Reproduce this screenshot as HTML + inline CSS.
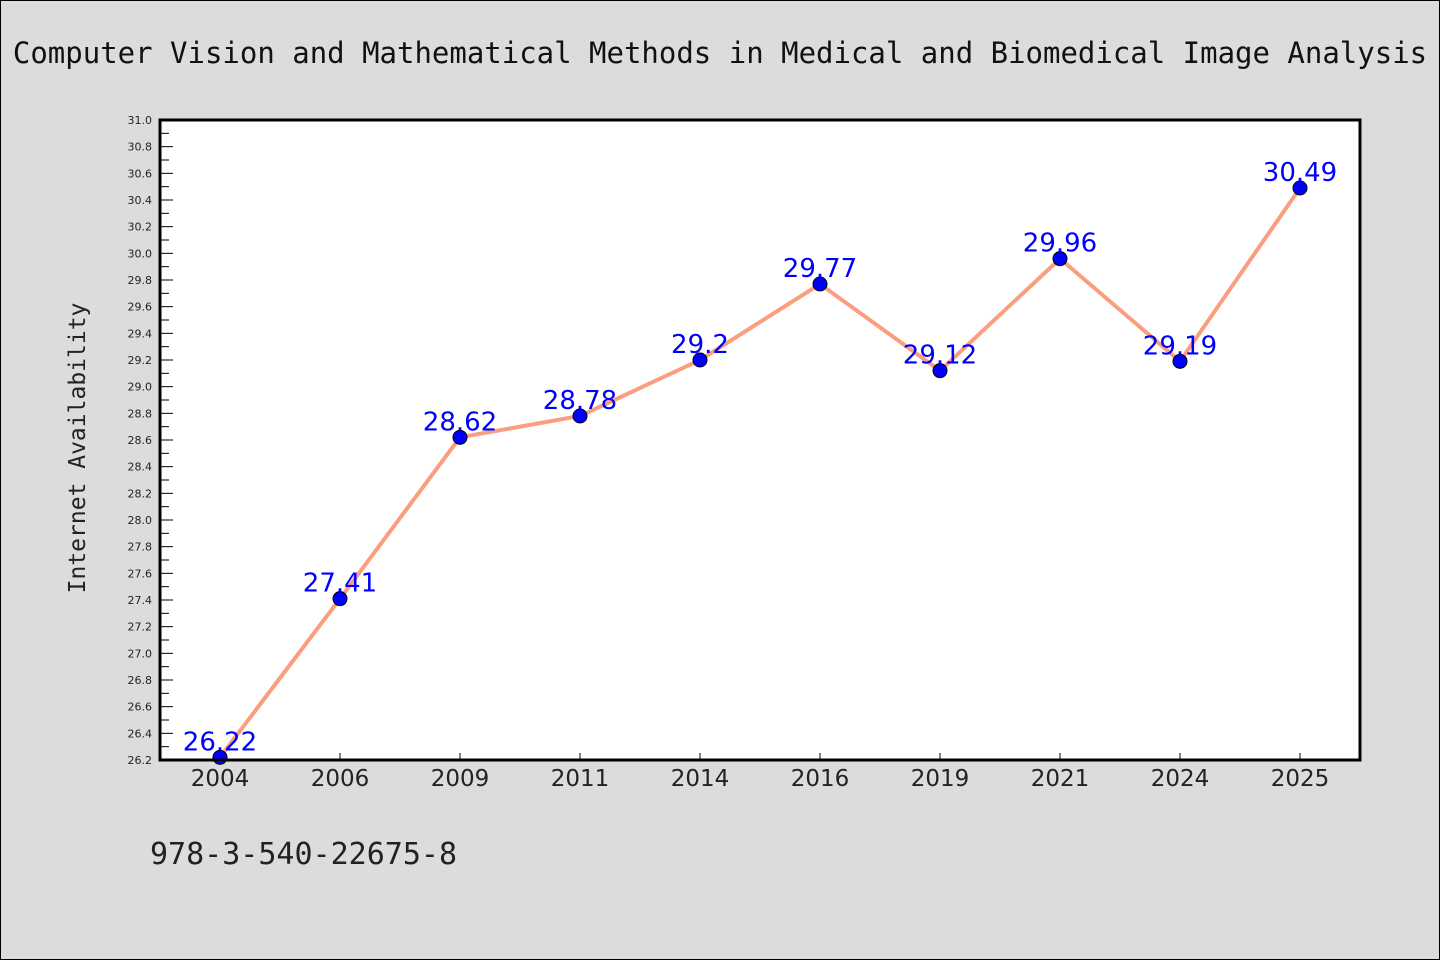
<!DOCTYPE html>
<html><head><meta charset="utf-8"><style>
body{margin:0;background:#dcdcdc;}
svg{display:block;font-family:"DejaVu Sans","Liberation Sans",sans-serif;}
</style></head><body>
<svg id="c" width="1440" height="960">
<rect x="0.5" y="0.5" width="1439" height="959" fill="#dcdcdc" stroke="#000"/>
<text x="720" y="63" text-anchor="middle" font-family="'DejaVu Sans Mono','Liberation Mono',monospace" font-size="29" fill="#111">Computer Vision and Mathematical Methods in Medical and Biomedical Image Analysis</text>
<rect x="160" y="120" width="1200" height="640" fill="#fff"/>
<text transform="translate(85,448) rotate(-90)" text-anchor="middle" font-family="'DejaVu Sans Mono','Liberation Mono',monospace" font-size="23" fill="#222">Internet Availability</text>
<text x="150" y="864" font-family="'DejaVu Sans Mono','Liberation Mono',monospace" font-size="30" fill="#222">978-3-540-22675-8</text>
<g id="ticks"></g><g id="marks"></g>
<rect x="160" y="120" width="1200" height="640" fill="none" stroke="#000" stroke-width="3"/>
</svg>
<script>
const categories=["2004","2006","2009","2011","2014","2016","2019","2021","2024","2025"];
const values=[26.22,27.41,28.62,28.78,29.2,29.77,29.12,29.96,29.19,30.49];
const valueLabels=["26.22","27.41","28.62","28.78","29.2","29.77","29.12","29.96","29.19","30.49"];
const yMin=26.2,yMax=31.0;
const NS="http://www.w3.org/2000/svg";
function xs(i){return 220+i*120;}
function ys(v){return 760-(v-yMin)/(yMax-yMin)*640;}
function mk(t,a,p){const e=document.createElementNS(NS,t);for(const k in a)e.setAttribute(k,a[k]);p.appendChild(e);return e;}
const tg=document.getElementById('ticks'),mg=document.getElementById('marks');
for(let k=0;k<=48;k++){const v=yMin+k*0.1;const y=ys(v);const major=k%2===0;
 const l=mk('line',{x1:160,x2:major?173:169,y1:y,y2:y,stroke:'#000','stroke-width':1},tg);
 
 if(major){const t=mk('text',{x:152,y:y+4,'text-anchor':'end','font-size':11,fill:'#222'},tg);t.textContent=v.toFixed(1);
 }}
categories.forEach((c,i)=>{const x=xs(i);
 const l=mk('line',{x1:x,x2:x,y1:760,y2:753,stroke:'#000','stroke-width':1},tg);
 
 const t=mk('text',{x:x,y:786,'text-anchor':'middle','font-size':23,fill:'#222'},tg);t.textContent=c;
 });
const line=mk('polyline',{points:values.map((v,i)=>xs(i)+','+ys(v)).join(' '),fill:'none',stroke:'#fa9e7f','stroke-width':4},mg);

values.forEach((v,i)=>{const p=mk('circle',{cx:xs(i),cy:ys(v),r:7,fill:'#0000ff',stroke:'#000','stroke-width':1},mg);
 
 const t=mk('text',{x:xs(i),y:ys(v)-7,'text-anchor':'middle','font-size':26,fill:'#0000ff'},mg);t.textContent=valueLabels[i];
 });
</script>
</body></html>
